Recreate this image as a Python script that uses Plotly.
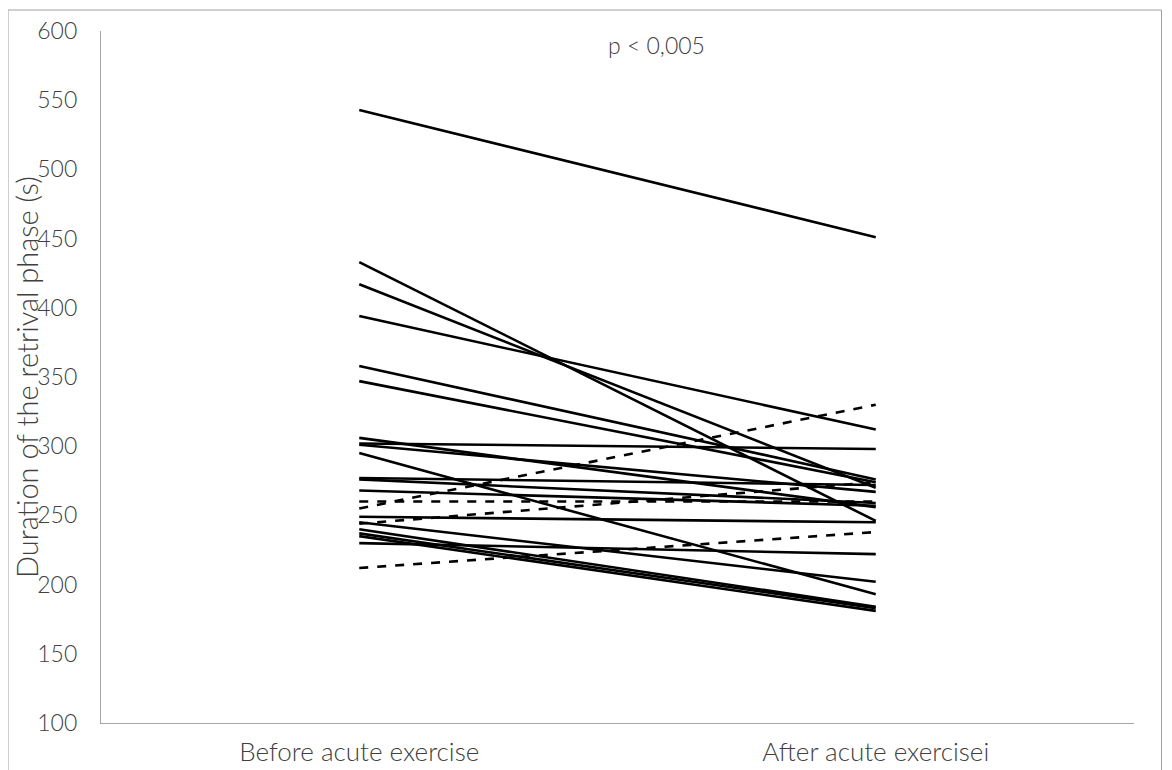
import plotly.graph_objects as go

categories = ["Before acute exercise", "After acute exercisei"]

before_solid = [543, 433, 417, 394, 358, 347, 306, 302, 301, 295, 277, 276, 268, 249, 245, 240, 237, 235, 230]
after_solid = [451, 246, 270, 312, 276, 274, 256, 298, 267, 193, 272, 259, 257, 245, 202, 184, 183, 181, 222]

before_dashed = [260, 255, 244, 212]
after_dashed = [260, 330, 274, 238]

y_ticks = [100, 150, 200, 250, 300, 350, 400, 450, 500, 550, 600]

FONT = "Lato"
TXT = "#404040"
FS = 23

fig = go.Figure()
for b, a in zip(before_solid, after_solid):
    fig.add_trace(go.Scatter(x=[0, 1], y=[b, a], mode="lines",
                             line=dict(color="black", width=2.6),
                             showlegend=False, hoverinfo="skip"))
for b, a in zip(before_dashed, after_dashed):
    fig.add_trace(go.Scatter(x=[0, 1], y=[b, a], mode="lines",
                             line=dict(color="black", width=2.6, dash="dash"),
                             showlegend=False, hoverinfo="skip"))

W, H = 1154, 762
ml, mr, mt, mb = 93, 28, 23, 47
pw = W - ml - mr
ph = H - mt - mb

fig.add_annotation(x=0.575, y=590, xref="x", yref="y", text="p < 0,005",
                   showarrow=False, font=dict(family=FONT, size=FS, color=TXT, weight=300))

fig.add_annotation(x=(18 - ml) / pw, y=0.5, xref="paper", yref="paper",
                   text="Duration of the retrival phase (s)", textangle=-90,
                   showarrow=False, xanchor="center", yanchor="middle",
                   font=dict(family=FONT, size=29, color=TXT, weight=300))

# outer chart border
fig.add_shape(type="rect", xref="paper", yref="paper",
              x0=-ml / pw, x1=1 + mr / pw - 0.5 / pw,
              y0=-(mb + 20) / ph, y1=1 + (mt - 2) / ph,
              line=dict(color="#a0a0a0", width=1), fillcolor="rgba(0,0,0,0)", layer="below")

fig.update_layout(
    width=W, height=H,
    margin=dict(l=ml, r=mr, t=mt, b=mb),
    paper_bgcolor="white", plot_bgcolor="white",
    font=dict(family=FONT, size=FS, color=TXT, weight=300),
    xaxis=dict(range=[-0.5, 1.5], tickvals=[0, 1], ticktext=categories,
               showgrid=False, zeroline=False, showline=True, linecolor="#a6a6a6",
               linewidth=1.3, ticks="", ticklabelstandoff=6, automargin=False,
               tickfont=dict(family=FONT, size=26, color=TXT, weight=300)),
    yaxis=dict(range=[100, 600], tickvals=y_ticks, showgrid=False, zeroline=False,
               showline=True, linecolor="#a6a6a6", linewidth=1.3, ticks="",
               ticklabelstandoff=18, automargin=False,
               tickfont=dict(family=FONT, size=FS, color=TXT, weight=300)),
)

fig.write_html("out.html")
